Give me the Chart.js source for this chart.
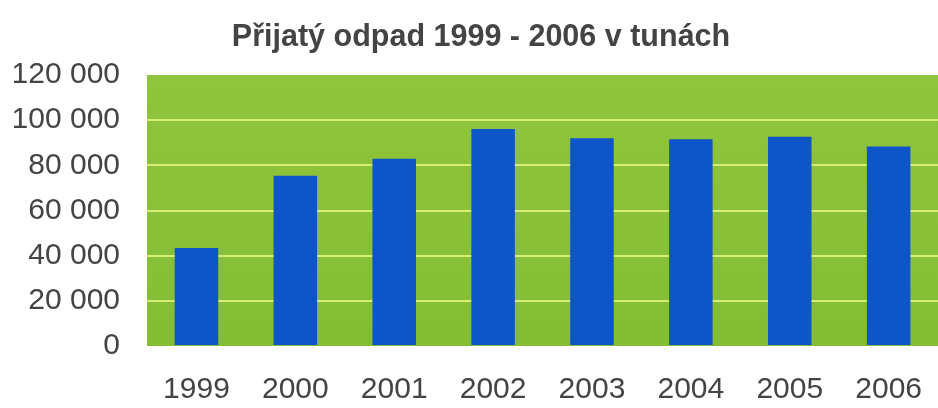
<!DOCTYPE html>
<html>
<head>
<meta charset="utf-8">
<script src="https://cdn.jsdelivr.net/npm/chart.js@4/dist/chart.umd.min.js"></script>
<style>
    html, body { margin: 0; padding: 0; background: #fff; overflow: hidden; }
    #wrap { width: 948px; height: 408px; }
</style>
</head>
<body>
<div id="wrap"><canvas id="chart" width="948" height="408"></canvas></div>
<script>
var titleText = 'Přijatý odpad 1999 - 2006 v tunách';
var years = ['1999', '2000', '2001', '2002', '2003', '2004', '2005', '2006'];
var tons = [43400, 75400, 82900, 96100, 92000, 91600, 92700, 88300];
var yTicks = [0, 20000, 40000, 60000, 80000, 100000, 120000];

// green plot background
var plotBackground = {
    id: 'plotBackground',
    beforeDraw: function (chart) {
        var a = chart.chartArea;
        var ctx = chart.ctx;
        var grad = ctx.createLinearGradient(0, a.top, 0, a.bottom);
        grad.addColorStop(0, '#8fc53c');
        grad.addColorStop(1, '#84bd34');
        ctx.save();
        ctx.fillStyle = grad;
        ctx.fillRect(a.left, a.top, a.right - a.left, a.bottom - a.top);
        ctx.restore();
    }
};

function formatTons(v) {
    return String(v).replace(/\B(?=(\d{3})+(?!\d))/g, ' ');
}

var ctx = document.getElementById('chart').getContext('2d');
var chart = new Chart(ctx, {
    type: 'bar',
    data: {
        labels: years,
        datasets: [{
            label: titleText,
            data: tons,
            backgroundColor: '#0e55c8',
            barPercentage: 0.44,
            categoryPercentage: 1
        }]
    },
    options: {
        responsive: false,
        animation: false,
        layout: { padding: { left: 14, right: 0, top: 0, bottom: 0 } },
        plugins: {
            legend: { display: false },
            tooltip: { enabled: false },
            title: {
                display: true,
                text: titleText,
                color: '#444444',
                font: { family: 'Liberation Sans, Arial, sans-serif', size: 30.5, weight: 'bold' },
                padding: { top: 19, bottom: 19.4 }
            }
        },
        scales: {
            x: {
                border: { display: false },
                afterFit: function (scale) { scale.height = 62; },
                grid: { display: false, drawTicks: false },
                ticks: {
                    color: '#444444',
                    padding: 26,
                    font: { family: 'Liberation Sans, Arial, sans-serif', size: 30 }
                }
            },
            y: {
                min: 0,
                max: 120000,
                border: { display: false },
                afterFit: function (scale) { scale.width = 133; },
                afterBuildTicks: function (scale) {
                    scale.ticks = yTicks.map(function (v) { return { value: v }; });
                },
                grid: {
                    drawTicks: false,
                    lineWidth: 2,
                    color: function (c) {
                        var v = c.tick ? c.tick.value : 0;
                        return (v === 0 || v === 120000) ? 'rgba(0,0,0,0)' : '#d6ee78';
                    }
                },
                ticks: {
                    color: '#444444',
                    padding: 27,
                    font: { family: 'Liberation Sans, Arial, sans-serif', size: 30 },
                    callback: function (v) { return formatTons(v); }
                }
            }
        }
    },
    plugins: [plotBackground]
});
</script>
</body>
</html>
